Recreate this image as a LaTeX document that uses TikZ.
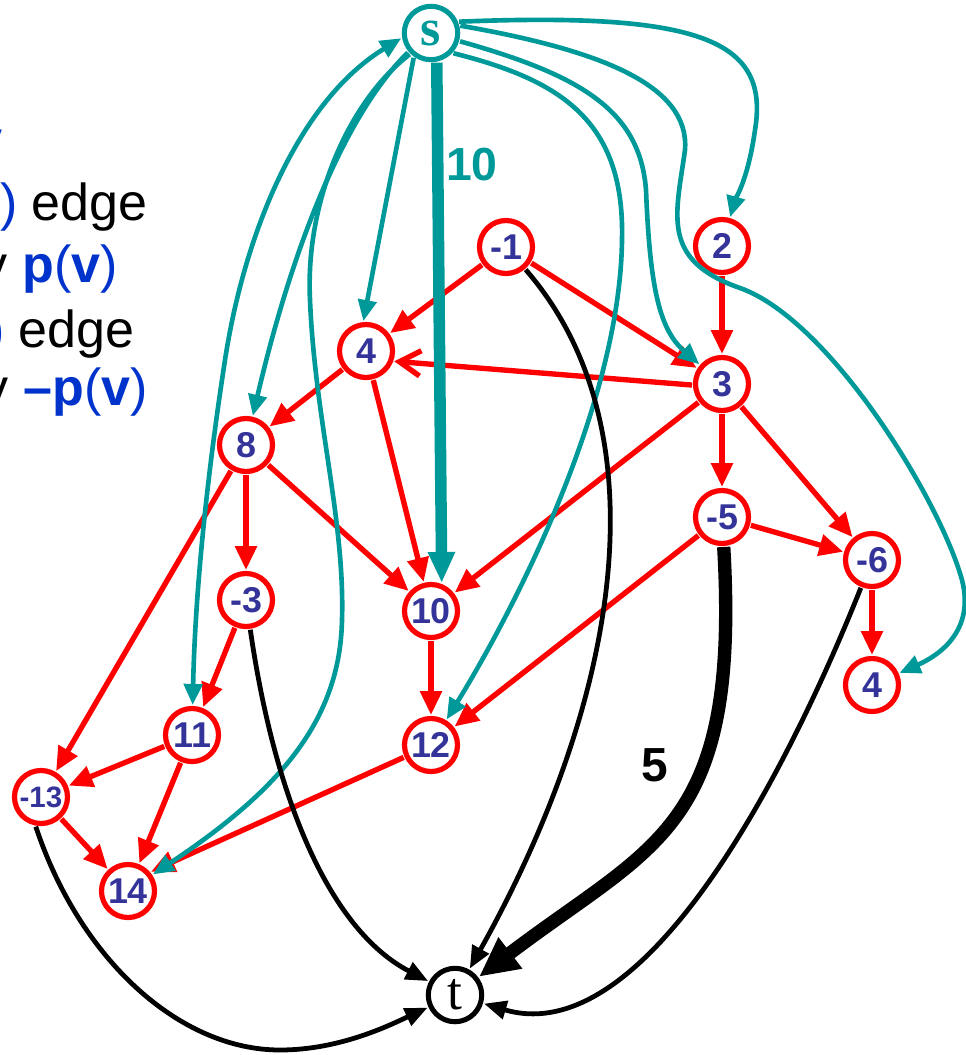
\documentclass[tikz,border=0pt]{standalone}
\usepackage{fontspec}
\setmainfont{Liberation Sans}
\newfontfamily\serifface{Liberation Serif}
\usetikzlibrary{arrows.meta}
\definecolor{tteal}{RGB}{0,153,153}
\definecolor{tblue}{RGB}{0,51,204}
\definecolor{tnum}{RGB}{51,51,153}
\begin{document}
\begin{tikzpicture}[x=0.025cm,y=-0.025cm,
  vnode/.style={circle,draw=red,line width=3.7pt,minimum size=37.7pt,inner sep=0pt,outer sep=2.5pt,
    text=tnum,font=\bfseries\fontsize{25.5}{25.5}\selectfont},
  stnode/.style={circle,line width=3.6pt,minimum size=38pt,inner sep=0pt,outer sep=2.5pt},
  re/.style={draw=red,line width=3.8pt,-{Triangle[length=17pt,width=15pt]}},
  rebarb/.style={draw=red,line width=3.8pt,-{Straight Barb[length=15pt,width=18pt,line width=3.8pt]}},
  te/.style={draw=tteal,line width=3.3pt,-{Triangle[length=15pt,width=13pt]}},
  tethick/.style={draw=tteal,line width=8.2pt,-{Triangle[length=22pt,width=18pt]}},
  be/.style={draw=black,line width=3.4pt,-{Triangle[length=16pt,width=13pt]}},
  bethick/.style={draw=black,line width=9.5pt,-{Triangle[length=28pt,width=26pt]}},
  lefttext/.style={anchor=base east,inner sep=0pt,font=\fontsize{37}{37}\selectfont}
]
\useasboundingbox (0,0) rectangle (966,1055);

% left text (cropped at the picture's edge)
\node[lefttext] (l1) at (3,157) {\textcolor{tblue}{v}};
\node[lefttext] (l2) at (148,220) {\textcolor{tblue}{)} edge};
\node[lefttext] (l3) at (118,282) {by \textcolor{tblue}{\textbf{p}(\textbf{v})}};
\node[lefttext] (l4) at (135,347) {\textcolor{tblue}{)} edge};
\node[lefttext] (l5) at (148,405) {by \textcolor{tblue}{\textbf{\textendash p}(\textbf{v})}};

% nodes
\node[stnode,draw=tteal,text=tteal,font=\serifface\bfseries\fontsize{37}{37}\selectfont] (s) at (431,33) {s};
\node[stnode,draw=black,text=black,font=\serifface\fontsize{38}{38}\selectfont] (t) at (455,995) {t};
\node[vnode] (m1) at (506,247) {-1};
\node[vnode] (n2) at (722,246) {2};
\node[vnode] (n4) at (366,351) {4};
\node[vnode] (n3) at (722,384) {3};
\node[vnode] (n8) at (246,445) {8};
\node[vnode] (m5) at (722,517) {-5};
\node[vnode] (m6) at (872,560) {-6};
\node[vnode] (n4r) at (872,685) {4};
\node[vnode] (m3) at (246,600) {-3};
\node[vnode] (n10) at (431,611) {10};
\node[vnode] (n11) at (192,735) {11};
\node[vnode] (n12) at (431,745) {12};
\node[vnode,font=\bfseries\fontsize{21}{21}\selectfont] (m13) at (41,797) {-13};
\node[vnode] (n14) at (128,891) {14};

% labels
\node[text=tteal,font=\bfseries\fontsize{33}{33}\selectfont] (lab10) at (472,165) {10};
\node[text=black,font=\bfseries\fontsize{34}{34}\selectfont] (lab5) at (655,765) {5};

% red edges
\draw[re] (m1) -- (n4);
\draw[re] (m1) -- (n3);
\draw[re] (n2) -- (n3);
\draw[rebarb] (n3.182) -- (n4.-20);
\draw[re] (n4) -- (n8);
\draw[re] (n4) -- (n10);
\draw[re] (n3) -- (n10);
\draw[re] (n3) -- (m5);
\draw[re] (n3) -- (m6);
\draw[re] (n8) -- (m3);
\draw[re] (n8) -- (n10);
\draw[re] (n8) -- (m13);
\draw[re] (m5) -- (m6);
\draw[re] (m5) -- (n12);
\draw[re] (m6) -- (n4r);
\draw[re] (m3) -- (n11);
\draw[re] (n10) -- (n12);
\draw[re] (n11) -- (m13);
\draw[re] (n11) -- (n14);
\draw[re] (m13) -- (n14);
\draw[re] (n12) -- (n14.40);

% teal edges
\draw[te] (s.22) .. controls (700,12) and (770,40) .. (755,130) .. controls (748,180) and (735,200) .. (n2);
\draw[te] (s.14) .. controls (600,50) and (690,85) .. (685,150) .. controls (676,215) and (660,260) .. (740,288) .. controls (830,320) and (940,500) .. (962,580) .. controls (975,630) and (940,655) .. (n4r);
\draw[te] (s.-16) .. controls (580,75) and (640,110) .. (646,190) .. controls (650,290) and (660,330) .. (n3);
\draw[te] (s.-42) .. controls (560,80) and (625,120) .. (622,240) .. controls (620,400) and (520,600) .. (n12);
\draw[tethick] (s.-79) -- (n10.69);
\draw[te] (s.-125) -- (n4.95);
\draw[te] (s.-140) .. controls (330,130) and (281,295) .. (n8);
\draw[te,{Triangle[length=15pt,width=13pt]}-{Triangle[length=15pt,width=13pt]}] (s.-170) .. controls (300,100) and (245,230) .. (225,360) .. controls (205,490) and (195,600) .. (n11);
\draw[te] (s.-135) .. controls (350,100) and (305,200) .. (310,300) .. controls (315,420) and (345,520) .. (342,620) .. controls (340,720) and (280,790) .. (n14);

% black edges to t
\draw[be] (m1) .. controls (665,430) and (620,700) .. (t);
\draw[be] (m3) .. controls (275,800) and (330,930) .. (t);
\draw[be] (m13.-100) .. controls (80,960) and (180,1050) .. (280,1050) .. controls (340,1050) and (390,1025) .. (t);
\draw[bethick] (m5) .. controls (740,830) and (655,843) .. (t);
\draw[be] (m6) .. controls (780,790) and (640,1050) .. (t);
\end{tikzpicture}
\end{document}
